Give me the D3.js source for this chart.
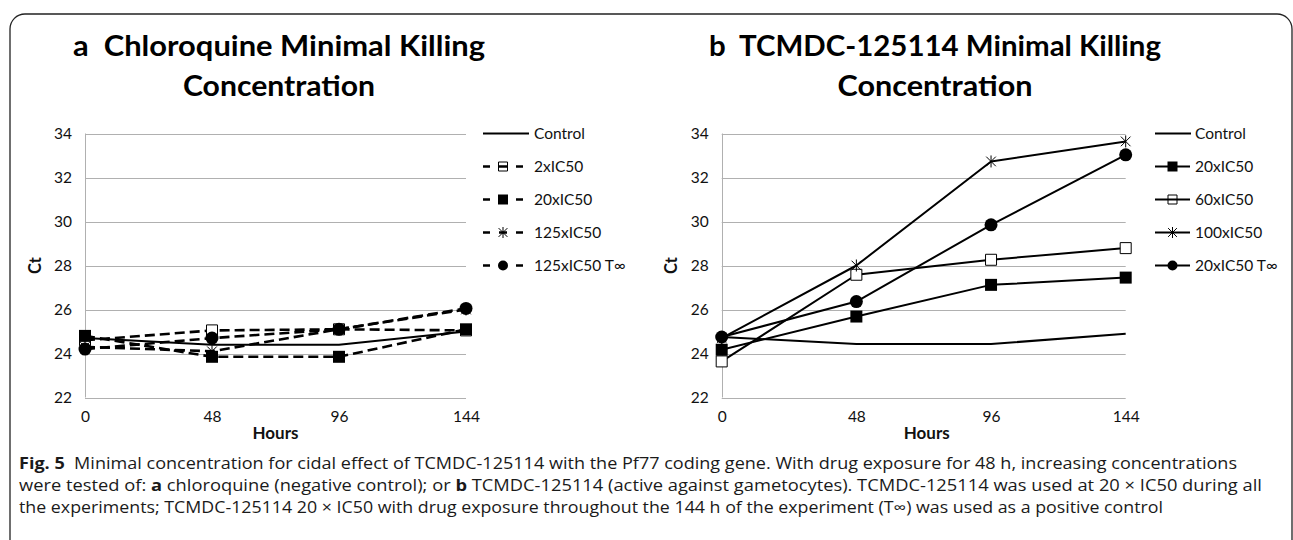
<!DOCTYPE html>
<html><head><meta charset="utf-8">
<script src="https://cdn.jsdelivr.net/npm/d3@7"></script>
<style>body{margin:0;background:#fff}svg{display:block}</style>
</head><body>
<svg id="c" width="1293" height="540"></svg>
<script>
// ---- data ----
const hours = [0, 48, 96, 144];
const yTicks = [22, 24, 26, 28, 30, 32, 34];

// Panel a: Chloroquine
const namesA = ["Control", "2xIC50", "20xIC50", "125xIC50", "125xIC50 T∞"];
const a_control = [24.7, 24.4, 24.4, 25.0];
const a_2x = [24.6, 25.05, 25.1, 25.05];
const a_20x = [24.8, 23.85, 23.85, 25.1];
const a_125x = [24.3, 24.1, 25.1, 26.0];
const a_125xT = [24.2, 24.7, 25.1, 26.05];

// Panel b: TCMDC-125114
const namesB = ["Control", "20xIC50", "60xIC50", "100xIC50", "20xIC50 T∞"];
const b_control = [24.75, 24.43, 24.43, 24.9];
const b_20x = [24.17, 25.68, 27.12, 27.45];
const b_60x = [23.64, 27.58, 28.26, 28.79];
const b_100x = [24.7, 28.0, 32.73, 33.64];
const b_20xT = [24.75, 26.36, 29.85, 33.03];

const titleA1 = "a  Chloroquine Minimal Killing", titleB1 = "b  TCMDC-125114 Minimal Killing", title2 = "Concentration";

const svg = d3.select("#c");
svg.append("rect").attr("width", 1293).attr("height", 540).attr("fill", "#fff");
svg.append("rect").attr("x", 10).attr("y", 14).attr("width", 1282).attr("height", 620)
  .attr("rx", 15).attr("fill", "none").attr("stroke", "#222").attr("stroke-width", 1.3);

const FONT = "Lato, 'Open Sans', sans-serif";

function starPath(r) {
  const p = d3.path();
  p.moveTo(0, -r); p.lineTo(0, r);
  const d = r * 0.8;
  p.moveTo(-d, -d); p.lineTo(d, d);
  p.moveTo(-d, d); p.lineTo(d, -d);
  return p.toString();
}

function drawMarker(g, type, cx, cy, s, legend) {
  if (type === "none") return;
  if (type === "sqFill") {
    g.append("path").attr("d", d3.symbol(d3.symbolSquare, s * s)()).attr("transform", `translate(${cx},${cy})`)
      .attr("fill", "#000");
  } else if (type === "sqOpen") {
    g.append("path").attr("d", d3.symbol(d3.symbolSquare, (s - 1) * (s - 1))()).attr("transform", `translate(${cx},${cy})`)
      .attr("fill", legend ? "none" : "#fff").attr("stroke", "#000").attr("stroke-width", 1);
  } else if (type === "circle") {
    g.append("path").attr("d", d3.symbol(d3.symbolCircle, Math.PI * (s / 2) * (s / 2))()).attr("transform", `translate(${cx},${cy})`)
      .attr("fill", "#000");
  } else if (type === "star") {
    g.append("path").attr("d", starPath(s / 2)).attr("transform", `translate(${cx},${cy})`)
      .attr("fill", "none").attr("stroke", "#000").attr("stroke-width", 1);
  }
}

function panel(opt) {
  const x = d3.scaleLinear().domain([0, 144]).range([opt.x0, opt.x1]);
  const y = d3.scaleLinear().domain([22, 34]).range([397.5, 133.5]);
  const g = svg.append("g");

  // gridlines
  g.append("g").selectAll("line").data(yTicks).join("line")
    .attr("x1", opt.x0).attr("x2", opt.x1).attr("y1", d => Math.round(y(d)) + 0.5).attr("y2", d => Math.round(y(d)) + 0.5)
    .attr("stroke", "#b0b0b0").attr("stroke-width", 1);
  g.append("line").attr("x1", Math.round(opt.x0) + 0.5).attr("x2", Math.round(opt.x0) + 0.5)
    .attr("y1", y(34)).attr("y2", y(22)).attr("stroke", "#b0b0b0");

  // axes via d3 axis (labels only)
  const ya = g.append("g").attr("transform", `translate(${opt.x0 - 13},0)`)
    .call(d3.axisLeft(y).tickValues(yTicks).tickSize(0).tickPadding(0));
  const xa = g.append("g").attr("transform", `translate(0,${y(22) + 7})`)
    .call(d3.axisBottom(x).tickValues(hours).tickSize(0).tickPadding(6));
  [ya, xa].forEach(a => {
    a.select(".domain").remove();
    a.selectAll("text").attr("font-family", FONT).attr("font-size", 15.5).attr("fill", "#111");
  });

  // axis titles
  g.append("text").attr("transform", `translate(${opt.ctX},${(y(22) + y(34)) / 2}) rotate(-90)`)
    .attr("text-anchor", "middle").attr("dy", "0.35em").attr("font-family", FONT).attr("font-weight", "bold")
    .attr("font-size", 16.5).attr("fill", "#111").text("Ct");
  g.append("text").attr("x", (opt.x0 + opt.x1) / 2 + opt.hoursDx).attr("y", 439)
    .attr("text-anchor", "middle").attr("font-family", FONT).attr("font-weight", "bold")
    .attr("font-size", 17).attr("fill", "#111").text("Hours");

  // titles
  g.append("text").attr("x", opt.tcx).attr("y", 56).attr("text-anchor", "middle").attr("xml:space", "preserve")
    .style("white-space", "pre")
    .attr("font-family", FONT).attr("font-weight", "bold").attr("font-size", 29).attr("fill", "#000")
    .attr("textLength", opt.t1w).attr("lengthAdjust", "spacingAndGlyphs").text(opt.title1);
  g.append("text").attr("x", opt.tcx).attr("y", 96).attr("text-anchor", "middle")
    .attr("font-family", FONT).attr("font-weight", "bold").attr("font-size", 29).attr("fill", "#000")
    .attr("textLength", opt.t2w).attr("lengthAdjust", "spacingAndGlyphs").text(title2);

  // series
  const line = d3.line().x((d, i) => x(hours[i])).y(d => y(d));
  opt.series.forEach(s => {
    g.append("path").attr("d", line(s.values)).attr("fill", "none").attr("stroke", "#000")
      .attr("stroke-width", s.dash ? 2.6 : 2).attr("stroke-dasharray", s.dash ? "10,5" : null)
      .attr("stroke-linejoin", "round");
  });
  opt.series.forEach(s => {
    s.values.forEach((v, i) => drawMarker(g, s.marker, x(hours[i]), y(v), s.size, false));
  });

  // legend
  const lg = g.append("g");
  opt.series.forEach((s, i) => {
    const cy = 133.5 + i * 33;
    const lx0 = opt.legX, lx1 = s.marker === "none" ? opt.legX + opt.legLenCtrl : opt.legX + opt.legLen;
    lg.append("line").attr("x1", lx0).attr("x2", lx1).attr("y1", cy).attr("y2", cy)
      .attr("stroke", "#000").attr("stroke-width", s.dash ? 2.6 : 2)
      .attr("stroke-dasharray", s.dash ? "7,9,8,9,7" : null);
    drawMarker(lg, s.marker, opt.legX + opt.legLen / 2, cy, s.marker === "star" ? 11 : 10, true);
    lg.append("text").attr("x", opt.legTx).attr("y", cy).attr("dy", "0.36em")
      .attr("font-family", FONT).attr("font-size", 15.5).attr("fill", "#111").text(s.name);
  });
}

panel({
  x0: 85, x1: 466, ctX: 35, hoursDx: 0, tcx: 279, t1w: 412, t2w: 192, title1: titleA1,
  legX: 483, legLen: 40, legLenCtrl: 46, legTx: 534,
  series: [
    { name: namesA[0], values: a_control, marker: "none", dash: false },
    { name: namesA[1], values: a_2x, marker: "sqOpen", size: 12, dash: true },
    { name: namesA[2], values: a_20x, marker: "sqFill", size: 12, dash: true },
    { name: namesA[3], values: a_125x, marker: "star", size: 12, dash: true },
    { name: namesA[4], values: a_125xT, marker: "circle", size: 13, dash: true }
  ]
});

panel({
  x0: 721.7, x1: 1125.7, ctX: 671, hoursDx: 3, tcx: 935, t1w: 452, t2w: 195, title1: titleB1,
  legX: 1155, legLen: 35, legLenCtrl: 36, legTx: 1195,
  series: [
    { name: namesB[0], values: b_control, marker: "none", dash: false },
    { name: namesB[1], values: b_20x, marker: "sqFill", size: 12, dash: false },
    { name: namesB[2], values: b_60x, marker: "sqOpen", size: 12, dash: false },
    { name: namesB[3], values: b_100x, marker: "star", size: 12, dash: false },
    { name: namesB[4], values: b_20xT, marker: "circle", size: 13, dash: false }
  ]
});

// caption
const capLines = [
  { w: 1218, parts: [["Fig. 5", true], ["  Minimal concentration for cidal effect of TCMDC-125114 with the Pf77 coding gene. With drug exposure for 48 h, increasing concentrations", false]] },
  { w: 1243, parts: [["were tested of: ", false], ["a", true], [" chloroquine (negative control); or ", false], ["b", true], [" TCMDC-125114 (active against gametocytes). TCMDC-125114 was used at 20 × IC50 during all", false]] },
  { w: 1144, parts: [["the experiments; TCMDC-125114 20 × IC50 with drug exposure throughout the 144 h of the experiment (T∞) was used as a positive control", false]] }
];
capLines.forEach((l, i) => {
  const t = svg.append("text").attr("x", 19).attr("y", 469 + i * 22)
    .attr("font-family", "'Open Sans', Lato, sans-serif").attr("font-size", 15.5).attr("fill", "#1a1a1a")
    .attr("textLength", l.w).attr("lengthAdjust", "spacingAndGlyphs").attr("xml:space", "preserve")
    .style("white-space", "pre");
  l.parts.forEach(p => t.append("tspan").attr("font-weight", p[1] ? "bold" : "normal").text(p[0]));
});
</script>
</body></html>
